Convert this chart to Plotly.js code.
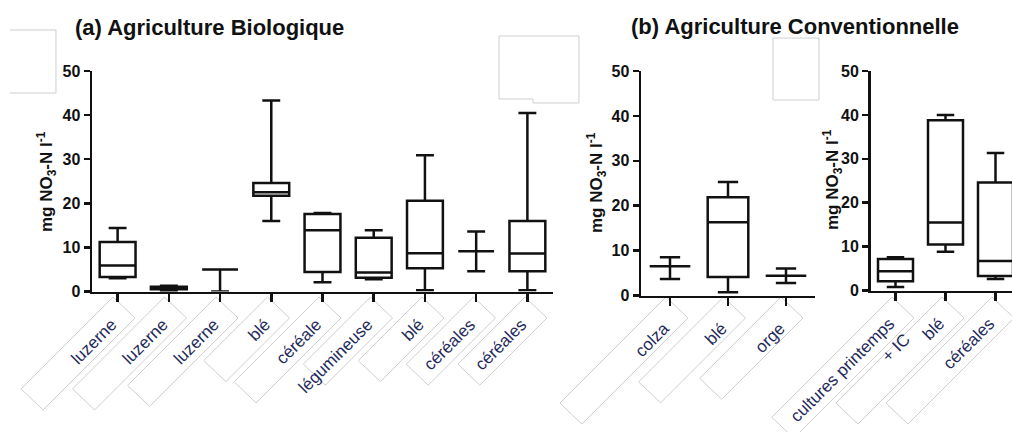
<!DOCTYPE html>
<html>
<head>
<meta charset="utf-8">
<script src="https://cdn.plot.ly/plotly-3.0.1.min.js"></script>
<style>
html,body{margin:0;padding:0;background:#fff;overflow:hidden;}
#chart{width:1012px;height:432px;}
</style>
</head>
<body>
<div id="chart"></div>
<script>
// ---------- DATA ----------
// (a) Agriculture Biologique
const catsA = ['luzerne','luzerne','luzerne','blé','céréale','légumineuse','blé','céréales','céréales'];
const minA  = [3.0, 0.0, 0.0, 16.0, 2.1, 2.8, 0.3, 4.6, 0.3];
const q1A   = [3.3, 0.5, 5.0, 21.7, 4.4, 3.1, 5.3, 9.1, 4.6];
const medA  = [5.9, 0.8, 5.0, 22.5, 13.9, 4.3, 8.7, 9.1, 8.6];
const q3A   = [11.2, 1.1, 5.0, 24.6, 17.6, 12.2, 20.6, 9.1, 16.0];
const maxA  = [14.4, 1.3, 5.0, 43.3, 17.8, 13.9, 30.9, 13.6, 40.5];

// (b) Agriculture Conventionnelle - left panel
const catsB = ['colza','blé','orge'];
const minB  = [3.7, 0.7, 2.8];
const q1B   = [6.5, 4.1, 4.4];
const medB  = [6.5, 16.3, 4.4];
const q3B   = [6.5, 21.9, 4.4];
const maxB  = [8.5, 25.3, 6.0];

// (b) Agriculture Conventionnelle - right panel
const catsC = ['cultures printemps<br>+ IC','blé','céréales'];
const minC  = [0.8, 8.8, 2.6];
const q1C   = [2.1, 10.5, 3.3];
const medC  = [4.4, 15.5, 6.7];
const q3C   = [7.2, 38.8, 24.6];
const maxC  = [7.6, 40.0, 31.3];

const yTicks = [0,10,20,30,40,50];
const titleA = '(a) Agriculture Biologique';
const titleB = '(b) Agriculture Conventionnelle';
const yTitle = 'mg NO<sub>3</sub>-N l<sup>-1</sup>';

// ---------- BUILD ----------
const W = 1012, H = 432;
const idx = a => a.map((_, i) => i);

function boxTrace(cats, mn, q1, md, q3, mx, xa, ya){
  return {
    type:'box', x: idx(cats), q1: q1, median: md, q3: q3,
    lowerfence: mn, upperfence: mx,
    xaxis: xa, yaxis: ya,
    fillcolor:'rgba(255,255,255,1)',
    line:{color:'#111', width:2.5},
    whiskerwidth:0.5, width:0.7,
    boxpoints:false, hoverinfo:'skip', showlegend:false
  };
}

const data = [
  boxTrace(catsA, minA, q1A, medA, q3A, maxA, 'x', 'y'),
  boxTrace(catsB, minB, q1B, medB, q3B, maxB, 'x2', 'y2'),
  boxTrace(catsC, minC, q1C, medC, q3C, maxC, 'x3', 'y3')
];

const FONT = 'Liberation Sans, Arial, sans-serif';
function xAx(cats, dom, rng, anchor){
  return {
    domain: dom, range: rng, anchor: anchor,
    tickmode:'array', tickvals: idx(cats), ticktext: cats,
    tickangle:-45, ticks:'outside', ticklen:8, tickwidth:2.5, tickcolor:'#111',
    ticklabelshift:-6, ticklabelstandoff:6,
    showline:true, linewidth:2.5, linecolor:'#111',
    showgrid:false, zeroline:false, fixedrange:true,
    tickfont:{family:FONT, size:17, color:'#1f2a5c'}
  };
}
function yAx(dom, anchor){
  return {
    domain: dom, range:[0,50], anchor: anchor,
    tickmode:'array', tickvals: yTicks, ticktext: yTicks.map(String),
    ticks:'outside', ticklen:6, tickwidth:2.5, tickcolor:'#111',
    showline:true, linewidth:2.5, linecolor:'#111',
    showgrid:false, zeroline:false, fixedrange:true,
    tickfont:{family:FONT, size:16, color:'#111', weight:'bold'}
  };
}

const px = x => x / W;
const py = y => 1 - y / H;

// decorative empty text-box frames from the original figure
function P(x, y){ return px(x).toFixed(4) + ',' + py(y).toFixed(4); }
const frames = [
  'M' + P(10,30) + 'L' + P(56,30) + 'L' + P(56,93) + 'L' + P(10,93),
  'M' + P(499,36) + 'L' + P(579,36) + 'L' + P(579,103) + 'L' + P(533,103) + 'L' + P(533,99) + 'L' + P(499,99) + 'Z',
  'M' + P(773,38) + 'L' + P(819,38) + 'L' + P(819,100) + 'L' + P(773,100) + 'Z'
];
// rotated frames around tick labels
function rotFrame(tx, ty, len){
  const d = len / Math.SQRT2;
  const T = [tx - 4, ty], R = [tx + 18, ty + 21];
  const L = [T[0] - d, T[1] + d], B = [R[0] - d, R[1] + d];
  return 'M' + P(T[0],T[1]) + 'L' + P(R[0],R[1]) + 'L' + P(B[0],B[1]) + 'L' + P(L[0],L[1]) + 'Z';
}
const tickPxA = i => 117 + i * 51.5;
const tickPxB = i => 670 + i * 57.5;
const tickPxC = i => 896 + i * 50;
const lenA = [130,130,125,90,120,95,90,95,95];
const lenB = [150,120,115];
const lenC = [170,150,150];
lenA.forEach((l,i)=>frames.push(rotFrame(tickPxA(i), 297, l)));
lenB.forEach((l,i)=>frames.push(rotFrame(tickPxB(i), 297, l)));
lenC.forEach((l,i)=>frames.push(rotFrame(tickPxC(i), 297, l)));

const shapes = frames.map(p => ({
  type:'path', path:p, xref:'paper', yref:'paper',
  line:{color:'#cfcfcf', width:1}, fillcolor:'rgba(0,0,0,0)', layer:'below'
}));

function yTitleAnn(x, y){
  return {text: yTitle, xref:'paper', yref:'paper', x: px(x), y: py(y),
    xanchor:'center', yanchor:'middle', textangle:-90, showarrow:false,
    font:{family:FONT, size:17, color:'#111', weight:'bold'}};
}

const layout = {
  width: W, height: H,
  margin:{l:0, r:0, t:0, b:0},
  paper_bgcolor:'#fff', plot_bgcolor:'rgba(0,0,0,0)',
  showlegend:false,
  xaxis:  xAx(catsA, [px(92),  px(553)], [-0.5, 8.5], 'y'),
  yaxis:  yAx([py(291.5), py(71)], 'x'),
  xaxis2: xAx(catsB, [px(641), px(815)], [-0.5, 2.5], 'y2'),
  yaxis2: yAx([py(295.5), py(71)], 'x2'),
  xaxis3: xAx(catsC, [px(870.5), 1], [-0.5, 2.33], 'y3'),
  yaxis3: yAx([py(290.5), py(71)], 'x3'),
  shapes: shapes,
  annotations: [
    {text: titleA, xref:'paper', yref:'paper', x: px(73), y: py(28),
     xanchor:'left', yanchor:'middle', showarrow:false,
     font:{family:FONT, size:22, color:'#111', weight:'bold'}},
    {text: titleB, xref:'paper', yref:'paper', x: px(629), y: py(26),
     xanchor:'left', yanchor:'middle', showarrow:false,
     font:{family:FONT, size:22, color:'#111', weight:'bold'}},
    yTitleAnn(46, 182),
    yTitleAnn(596, 183),
    yTitleAnn(832, 180)
  ]
};

Plotly.newPlot('chart', data, layout, {displayModeBar:false, staticPlot:true});
</script>
</body>
</html>
